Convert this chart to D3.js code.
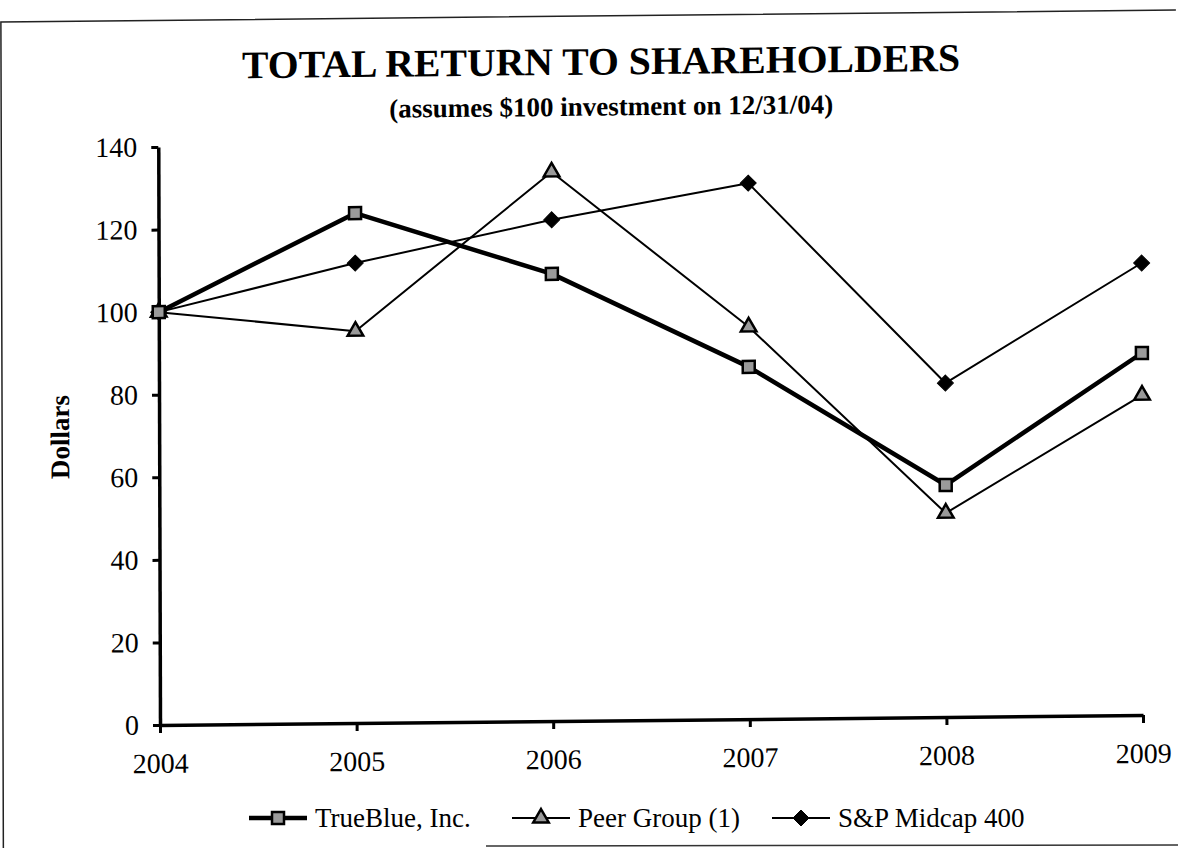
<!DOCTYPE html>
<html>
<head>
<meta charset="utf-8">
<script src="https://cdn.jsdelivr.net/npm/d3@7"></script>
<style>
  body { margin: 0; background: #fff; }
  svg { display: block; }
  text { font-family: "Liberation Serif", "Times New Roman", serif; fill: #000; }
</style>
</head>
<body>
<svg id="chart" width="1178" height="848"></svg>
<script>
const years = [2004, 2005, 2006, 2007, 2008, 2009];
const trueBlue = [100, 123.5, 108.3, 85.3, 56.2, 87.7];
const peerGroup = [100, 94.9, 133.0, 95.0, 49.4, 77.5];
const spMidcap = [100, 111.4, 121.4, 129.8, 80.9, 109.5];
const yTicks = [0, 20, 40, 60, 80, 100, 120, 140];
const seriesNames = ["TrueBlue, Inc.", "Peer Group (1)", "S&P Midcap 400"];

const svg = d3.select("#chart");

// the source is a scan that sits a little crooked, so skew the chart the same way
const ox = 160, oy = 725;
const g = svg.append("g")
  .attr("transform", `translate(${ox},${oy}) matrix(1,-0.0101,0.003,1,0,0) translate(${-ox},${-oy})`);

// frame
g.append("path")
  .attr("d", "M1178,20.4 L3,20.4 L3,850")
  .attr("fill", "none").attr("stroke", "#222").attr("stroke-width", 1.5);
svg.append("line")
  .attr("x1", 486).attr("x2", 1178).attr("y1", 846).attr("y2", 845)
  .attr("stroke", "#333").attr("stroke-width", 1.5);

// titles
g.append("text")
  .attr("x", 603).attr("y", 79)
  .attr("text-anchor", "middle")
  .attr("font-size", 39).attr("font-weight", "bold")
  .attr("textLength", 718).attr("lengthAdjust", "spacingAndGlyphs")
  .text("TOTAL RETURN TO SHAREHOLDERS");
g.append("text")
  .attr("x", 613).attr("y", 120)
  .attr("text-anchor", "middle")
  .attr("font-size", 27).attr("font-weight", "bold")
  .text("(assumes $100 investment on 12/31/04)");

const x = d3.scalePoint().domain(years).range([160, 1143]);
const y = d3.scaleLinear().domain([0, 140]).range([725, 147]);

// y axis
const yAxis = g.append("g")
  .attr("transform", `translate(${x(years[0])},0)`)
  .call(d3.axisLeft(y).tickValues(yTicks).tickSize(7).tickSizeOuter(0).tickPadding(14));
yAxis.select(".domain").attr("stroke", "#000").attr("stroke-width", 3.5);
yAxis.selectAll(".tick line").attr("stroke", "#000").attr("stroke-width", 3);
yAxis.selectAll(".tick text").attr("font-size", 28).attr("font-family", null);

// x axis
const xAxis = g.append("g")
  .attr("transform", `translate(0,${y(0)})`)
  .call(d3.axisBottom(x).tickSize(8).tickSizeOuter(0).tickPadding(20));
xAxis.select(".domain").attr("stroke", "#000").attr("stroke-width", 3.5);
xAxis.selectAll(".tick line").attr("stroke", "#000").attr("stroke-width", 3);
xAxis.selectAll(".tick text").attr("font-size", 28).attr("font-family", null);

g.append("text")
  .attr("transform", "translate(70,436) rotate(-90)")
  .attr("text-anchor", "middle")
  .attr("font-size", 27).attr("font-weight", "bold")
  .text("Dollars");

const series = [
  { name: seriesNames[0], values: trueBlue, width: 4.5, marker: "square" },
  { name: seriesNames[1], values: peerGroup, width: 2, marker: "triangle" },
  { name: seriesNames[2], values: spMidcap, width: 2, marker: "diamond" }
];

function drawMarker(sel, type) {
  if (type === "square") {
    sel.append("rect").attr("x", -6).attr("y", -6).attr("width", 12).attr("height", 12)
      .attr("fill", "#9a9a9a").attr("stroke", "#000").attr("stroke-width", 2.5);
  } else if (type === "triangle") {
    sel.append("path").attr("d", d3.symbol(d3.symbolTriangle, 105)())
      .attr("fill", "#9a9a9a").attr("stroke", "#000").attr("stroke-width", 2.5);
  } else {
    sel.append("path").attr("d", "M0,-8L8,0L0,8L-8,0Z")
      .attr("fill", "#000").attr("stroke", "#000").attr("stroke-width", 1);
  }
}

const line = d3.line()
  .x((d, i) => x(years[i]))
  .y(d => y(d));

// thin lines first, thick TrueBlue on top
[series[2], series[1], series[0]].forEach(s => {
  g.append("path")
    .datum(s.values)
    .attr("fill", "none")
    .attr("stroke", "#000")
    .attr("stroke-width", s.width)
    .attr("stroke-linejoin", "round")
    .attr("d", line);
});
[series[2], series[1], series[0]].forEach(s => {
  s.values.forEach((v, i) => {
    const m = g.append("g").attr("transform", `translate(${x(years[i])},${y(v)})`);
    drawMarker(m, s.marker);
  });
});

// legend (sits level in the scan)
const legendPos = [249, 512, 772];
series.forEach((s, i) => {
  const lg = svg.append("g").attr("transform", `translate(${legendPos[i]},818)`);
  lg.append("line").attr("x1", 0).attr("x2", 58).attr("y1", 0).attr("y2", 0)
    .attr("stroke", "#000").attr("stroke-width", s.width);
  drawMarker(lg.append("g").attr("transform", "translate(29,0)"), s.marker);
  lg.append("text").attr("x", 66).attr("y", 9)
    .attr("font-size", 27)
    .text(s.name);
});
</script>
</body>
</html>
